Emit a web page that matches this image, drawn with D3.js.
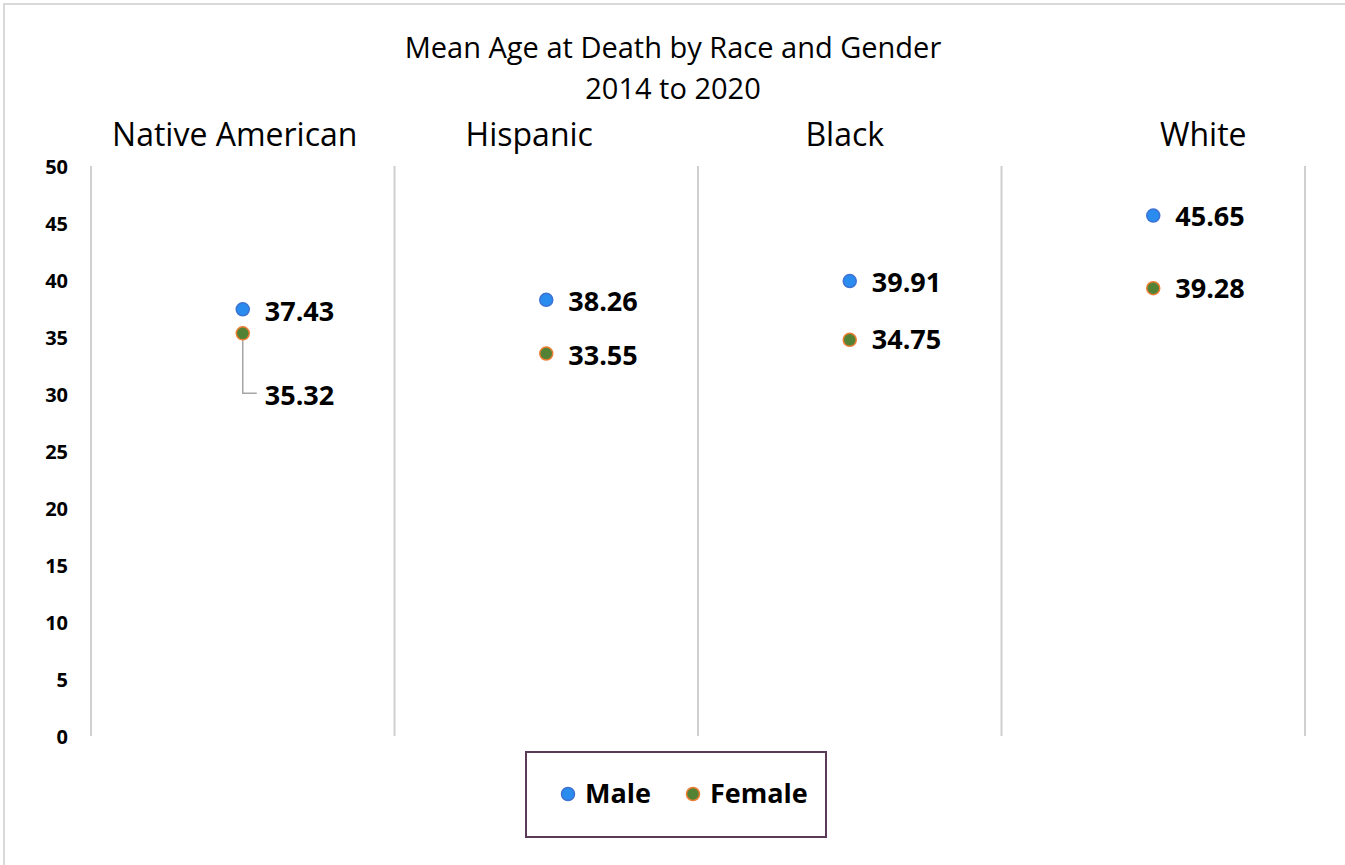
<!DOCTYPE html>
<html>
<head>
<meta charset="utf-8">
<script src="https://cdn.jsdelivr.net/npm/d3@7"></script>
<style>
  body { margin: 0; background: #fff; }
  svg text { font-family: "Open Sans", "Noto Sans", sans-serif; fill: #000; }
</style>
</head>
<body>
<div id="chart"></div>
<script>
// data
var races = ["Native American", "Hispanic", "Black", "White"]
var male = [37.43, 38.26, 39.91, 45.65]
var female = [35.32, 33.55, 34.75, 39.28]
var yTicks = [0, 5, 10, 15, 20, 25, 30, 35, 40, 45, 50]
var titleLines = ["Mean Age at Death by Race and Gender", "2014 to 2020"]

// layout
var W = 1345, H = 865
var plot = {left: 91, right: 1305, top: 166, bottom: 736}
var headNudge = [-8, -17, -5, 50]   // category headers sit a bit off-centre

var svg = d3.select("#chart").append("svg")
    .attr("width", W)
    .attr("height", H)

// outer chart border (only top and left visible)
svg.append("rect")
    .attr("x", 4).attr("y", 4)
    .attr("width", W + 10).attr("height", H + 10)
    .attr("fill", "none")
    .attr("stroke", "#d9d9d9")
    .attr("stroke-width", 2)

var x = d3.scaleBand()
    .domain(races)
    .range([plot.left, plot.right])
    .padding(0)

var y = d3.scaleLinear()
    .domain([0, 50])
    .range([plot.bottom, plot.top])

// title
svg.append("g").selectAll("text")
    .data(titleLines)
    .enter()
    .append("text")
    .attr("x", 673)
    .attr("y", function (d, i) { return 58 + i * 41 })
    .attr("text-anchor", "middle")
    .style("font-size", "29px")
    .text(function (d) { return d })

// category headers
svg.append("g").selectAll("text")
    .data(races)
    .enter()
    .append("text")
    .attr("x", function (d, i) { return x(d) + x.bandwidth() / 2 + headNudge[i] })
    .attr("y", 146)
    .attr("text-anchor", "middle")
    .style("font-size", "32px")
    .text(function (d) { return d })

// vertical separators
var seps = x.domain().map(function (d) { return x(d) }).concat([plot.right])
svg.append("g").selectAll("line")
    .data(seps)
    .enter()
    .append("line")
    .attr("x1", function (d) { return d })
    .attr("x2", function (d) { return d })
    .attr("y1", plot.top)
    .attr("y2", plot.bottom)
    .attr("stroke", "#d0d0d0")
    .attr("stroke-width", 2)

// y axis labels
var yAxis = svg.append("g")
    .attr("transform", "translate(" + (plot.left - 23) + ",0)")
    .call(d3.axisLeft(y).tickValues(yTicks).tickSize(0).tickPadding(0))
yAxis.select(".domain").remove()
yAxis.selectAll("text")
    .attr("font-family", null)
    .style("font-size", "20px")
    .style("font-weight", "bold")
    .attr("dy", "0.35em")

var cx = function (d, i) { return x(races[i]) + x.bandwidth() / 2 }

// leader line for the Native American female label
var leader = d3.line()
svg.append("path")
    .attr("d", leader([[cx(null, 0), y(female[0]) + 6], [cx(null, 0), y(female[0]) + 60], [cx(null, 0) + 14, y(female[0]) + 60]]))
    .attr("fill", "none")
    .attr("stroke", "#a6a6a6")
    .attr("stroke-width", 1.5)

// points
var series = [
    {name: "Male", values: male, fill: "#2b8cf0", stroke: "#3d72d2", labelDy: [2, 2, 2, 1]},
    {name: "Female", values: female, fill: "#548235", stroke: "#ed7d31", labelDy: [62, 2, 0, 0]}
]

series.forEach(function (s) {
    var g = svg.append("g")
    g.selectAll("circle")
        .data(s.values)
        .enter()
        .append("circle")
        .attr("cx", cx)
        .attr("cy", function (d) { return y(d) })
        .attr("r", 6.5)
        .attr("fill", s.fill)
        .attr("stroke", s.stroke)
        .attr("stroke-width", 1.5)

    g.selectAll("text")
        .data(s.values)
        .enter()
        .append("text")
        .attr("x", function (d, i) { return cx(d, i) + 22 })
        .attr("y", function (d, i) { return y(d) + s.labelDy[i] })
        .attr("dy", "0.35em")
        .style("font-size", "27px")
        .style("font-weight", "bold")
        .text(function (d) { return d.toFixed(2) })
})

// legend
var legend = svg.append("g")
legend.append("rect")
    .attr("x", 526).attr("y", 752)
    .attr("width", 300).attr("height", 85)
    .attr("fill", "#fff")
    .attr("stroke", "#5b3a58")
    .attr("stroke-width", 2)

var legX = [568, 693]
series.forEach(function (s, i) {
    legend.append("circle")
        .attr("cx", legX[i]).attr("cy", 794)
        .attr("r", 6.5)
        .attr("fill", s.fill)
        .attr("stroke", s.stroke)
        .attr("stroke-width", 1.5)
    legend.append("text")
        .attr("x", legX[i] + 17).attr("y", 794)
        .attr("dy", "0.35em")
        .style("font-size", "27px")
        .style("font-weight", "bold")
        .text(s.name)
})
</script>
</body>
</html>
